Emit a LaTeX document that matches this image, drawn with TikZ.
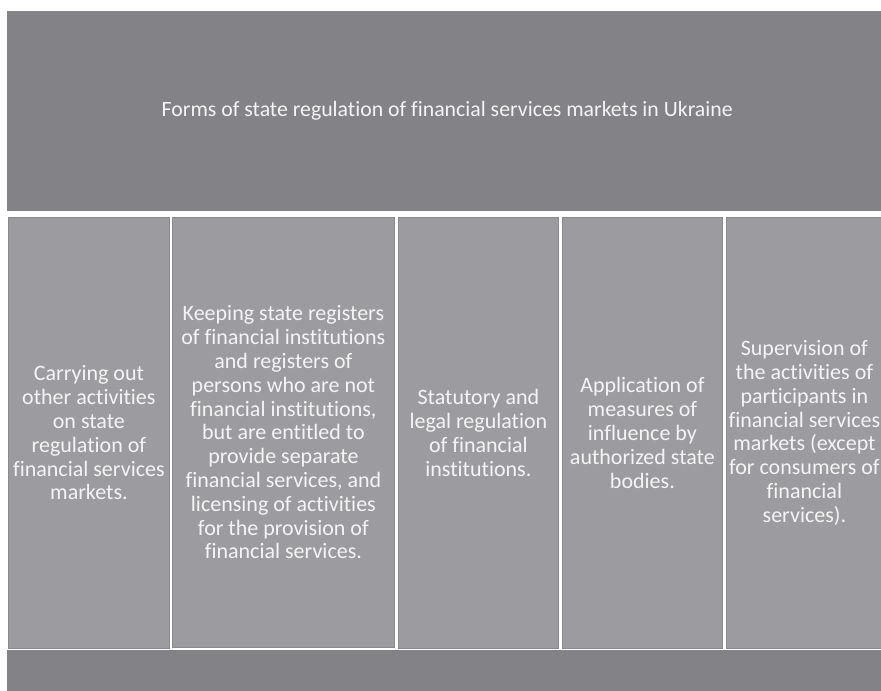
\documentclass[tikz,border=0pt]{standalone}
\usepackage{fontspec}
\setmainfont[Ligatures=CommonOff]{Carlito}
\definecolor{topgray}{HTML}{838387}
\definecolor{colgray}{HTML}{9C9CA0}
\definecolor{colborder}{HTML}{8A8A8E}
\definecolor{txt}{HTML}{F4F4F4}
\begin{document}
\begin{tikzpicture}[x=1bp,y=-1bp,
  band/.style={fill=topgray,draw=none,inner sep=0pt,anchor=north west,text=txt,font=\fontsize{21.8bp}{26bp}\selectfont},
  colbox/.style={fill=colgray,draw=colborder,line width=0.8bp,inner sep=0pt,anchor=north west,align=center,text=txt,font=\fontsize{22bp}{23.8bp}\selectfont}]
\useasboundingbox (0,0) rectangle (881,691);
\fill[white] (0,0) rectangle (881,691);
\node[band,minimum width=880bp,minimum height=200bp] (top) at (7,11) {Forms of state regulation of financial services markets in Ukraine};
\node[colbox,minimum width=161bp,minimum height=431bp] (c1) at (8,217) {Carrying out\\other activities\\on state\\regulation of\\financial services\\markets.};
\node[colbox,minimum width=222bp,minimum height=430bp] (c2) at (172,217) {Keeping state registers\\of financial institutions\\and registers of\\persons who are not\\financial institutions,\\but are entitled to\\provide separate\\financial services, and\\licensing of activities\\for the provision of\\financial services.};
\node[colbox,minimum width=160bp,minimum height=431bp] (c3) at (398,217) {Statutory and\\legal regulation\\of financial\\institutions.};
\node[colbox,minimum width=160bp,minimum height=431bp] (c4) at (562,217) {Application of\\measures of\\influence by\\authorized state\\bodies.};
\node[colbox,minimum width=156bp,minimum height=431bp] (c5) at (726,217) {Supervision of\\the activities of\\participants in\\financial services\\markets (except\\for consumers of\\financial\\services).};
\node[band,minimum width=880bp,minimum height=45bp] (bottom) at (7,650) {};
\end{tikzpicture}
\end{document}
